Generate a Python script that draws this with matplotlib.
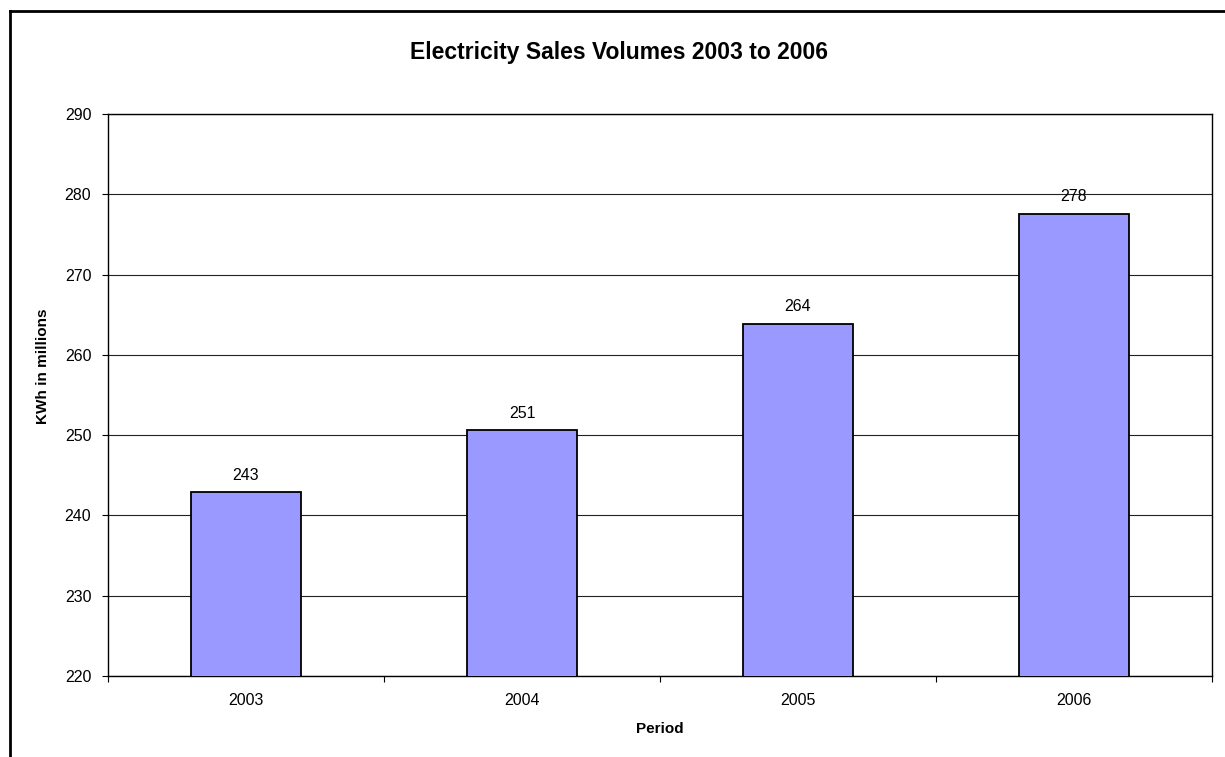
import numpy as np
import matplotlib.pyplot as plt
from matplotlib.lines import Line2D

plt.rcParams['font.family'] = ['Liberation Sans', 'DejaVu Sans']

# Datos del grafico
years = ['2003', '2004', '2005', '2006']
sales = [242.9, 250.6, 263.9, 277.6]
y_ticks = [220, 230, 240, 250, 260, 270, 280, 290]

W, H = 1225, 757
fig = plt.figure(figsize=(W / 100, H / 100), dpi=100)
ax = fig.add_axes([108 / W, 1 - 676 / H, (1212 - 108) / W, (676 - 114) / H])

x = np.arange(len(years))
bars = ax.bar(x, sales, width=0.4, color='#9999ff', edgecolor='black',
              linewidth=1.3, zorder=3)

# Etiquetas de valores
for xi, v in zip(x, sales):
    ax.text(xi, v + 1.2, f"{v:.0f}", ha='center', va='bottom', fontsize=11.5)

ax.set_xlim(-0.5, len(years) - 0.5)
ax.set_ylim(y_ticks[0], y_ticks[-1])
ax.set_yticks(y_ticks)
ax.yaxis.grid(True, color='#222222', linewidth=0.8, zorder=0)

# Marcas en los limites de las categorias, etiquetas al centro
ax.set_xticks(np.arange(-0.5, len(years), 1.0))
ax.set_xticklabels([])
ax.set_xticks(x, minor=True)
ax.set_xticklabels(years, minor=True, fontsize=11.5)
ax.tick_params(axis='x', which='major', length=4, width=0.8, direction='out')
ax.tick_params(axis='x', which='minor', length=0, pad=12)
ax.tick_params(axis='y', length=4, width=0.8, direction='out', labelsize=11.5, pad=8)

for s in ax.spines.values():
    s.set_linewidth(1.0)
    s.set_color('black')

ax.set_xlabel('Period', fontsize=11, fontweight='bold', labelpad=10)
ax.set_ylabel('KWh in millions', fontsize=11, fontweight='bold')
ax.yaxis.set_label_coords(-0.0525, 0.552)
fig.text(619 / W, 1 - 53 / H, 'Electricity Sales Volumes 2003 to 2006',
         ha='center', va='center', fontsize=16.5, fontweight='bold')

# Marco de la figura
fx = 9.5 / W
fy = 1 - 10.5 / H
fig.add_artist(Line2D([fx, fx], [0, fy], color='black', linewidth=2, transform=fig.transFigure))
fig.add_artist(Line2D([fx, 1], [fy, fy], color='black', linewidth=2, transform=fig.transFigure))

plt.savefig('out.png', dpi=100)
